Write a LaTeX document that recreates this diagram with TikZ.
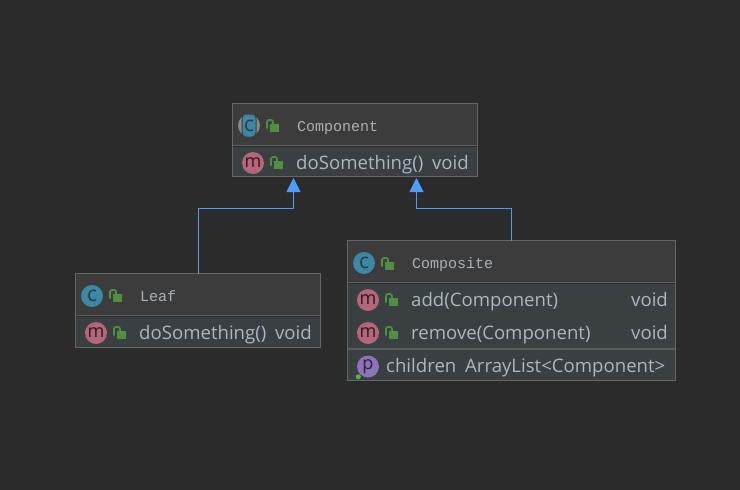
\documentclass[tikz,border=0pt]{standalone}
\usepackage{fontspec}
\setmainfont{Open Sans}
\newfontfamily\titlefont{Liberation Mono}
\usetikzlibrary{arrows.meta,calc}
\definecolor{bgc}{HTML}{2B2B2B}
\definecolor{headc}{HTML}{3C3C3C}
\definecolor{bodyc}{HTML}{3A3F42}
\definecolor{edgec}{HTML}{666666}
\definecolor{sepc}{HTML}{2A2C2D}
\definecolor{sepb}{HTML}{5A5E60}
\definecolor{txtc}{HTML}{A9B7C6}
\definecolor{ttlc}{HTML}{A9B1B8}
\definecolor{linkc}{HTML}{4F9CFA}
\definecolor{classc}{HTML}{3C87A6}
\definecolor{methc}{HTML}{B4667A}
\definecolor{propc}{HTML}{8D73B8}
\definecolor{lockc}{HTML}{4F8F3F}
\definecolor{ringc}{HTML}{8A8A8A}
\definecolor{glyphd}{HTML}{2E3B42}
\definecolor{dotc}{HTML}{50C030}
\tikzset{
  x=1pt,y=-1pt,
  boxframe/.style={draw=edgec,line width=1pt,rectangle,inner sep=0pt,outer sep=0pt,anchor=north west,fill=none},
  ttl/.style={anchor=base west,font=\titlefont\fontsize{15}{15}\selectfont,text=ttlc,inner sep=0pt},
  mem/.style={anchor=base west,font=\fontsize{18.6}{19}\selectfont,text=txtc,inner sep=0pt},
  ico/.style={circle,minimum size=22pt,inner sep=0pt,text=glyphd,font=\fontsize{18}{18}\selectfont},
  cico/.style={ico,fill=classc,font=\fontsize{21}{21}\selectfont},
  mico/.style={ico,fill=methc,text=black!75!methc},
  pico/.style={ico,fill=propc,text=black!70!propc},
  link/.style={draw=linkc,line width=1pt,-{Triangle[length=14pt,width=14pt,fill=linkc]}},
}
\newcommand{\lockat}[2]{%
  \fill[lockc] (#1+1,#2-2) rectangle (#1+10.5,#2+6);
  \draw[lockc,line width=1.8pt,rounded corners=2pt] (#1-1.5,#2+2.5) -- (#1-1.5,#2-6) -- (#1+4.5,#2-6) -- (#1+4.5,#2-2);
}
\begin{document}
\begin{tikzpicture}
\useasboundingbox (0,0) rectangle (740,490);
\fill[bgc] (0,0) rectangle (740,490);
% Component
\fill[headc] (232.5,103.5) rectangle (477.5,146);
\fill[bodyc] (232.5,146) rectangle (477.5,176.5);
\draw[sepb,line width=1pt] (232.5,145.5) -- (477.5,145.5);
\draw[sepc,line width=1pt] (232.5,146.5) -- (477.5,146.5);
\node[boxframe,minimum width=245pt,minimum height=73pt] (component) at (232.5,103.5) {};
\fill[ringc] (249,125.5) circle (11);
\fill[headc,rounded corners=4pt] (241.5,113.5) rectangle (256.5,137.5);
\fill[classc,rounded corners=4pt] (242.5,114.5) rectangle (255.5,136.5);
\node[cico,fill=none,text=glyphd] (cicoA) at (249,125.5) {c};
\lockat{268.5}{126}
\node[ttl] (ttlA) at (297,131) {Component};
\node[mico] (micoA) at (253,163) {m};
\lockat{272.5}{163}
\node[mem] (memA) at (296,169) {doSomething()\hspace{4pt} void};
% Leaf
\fill[headc] (75.5,273.5) rectangle (320.5,316);
\fill[bodyc] (75.5,316) rectangle (320.5,347.5);
\draw[sepb,line width=1pt] (75.5,315.5) -- (320.5,315.5);
\draw[sepc,line width=1pt] (75.5,316.5) -- (320.5,316.5);
\node[boxframe,minimum width=245pt,minimum height=74pt] (leaf) at (75.5,273.5) {};
\node[cico] (cicoB) at (92,296) {c};
\lockat{111.5}{296}
\node[ttl] (ttlB) at (140,301) {Leaf};
\node[mico] (micoB) at (96,333) {m};
\lockat{115.5}{333}
\node[mem] (memB) at (139,339) {doSomething()\hspace{4pt} void};
% Composite
\fill[headc] (347.5,240.5) rectangle (675.5,283);
\fill[bodyc] (347.5,283) rectangle (675.5,380.5);
\draw[sepb,line width=1pt] (347.5,282.5) -- (675.5,282.5);
\draw[sepc,line width=1pt] (347.5,283.5) -- (675.5,283.5);
\draw[sepb,line width=1.6pt] (347.5,348.8) -- (675.5,348.8);
\node[boxframe,minimum width=328pt,minimum height=140pt] (composite) at (347.5,240.5) {};
\node[cico] (cicoC) at (364,263) {c};
\lockat{383.5}{264}
\node[ttl] (ttlC) at (412,268) {Composite};
\node[mico] (micoC) at (368,300) {m};
\lockat{387.5}{300}
\node[mem] (memC) at (411,306) {add(Component)};
\node[mem] (voidC) at (631,306) {void};
\node[mico] (micoD) at (368,333) {m};
\lockat{387.5}{333}
\node[mem] (memD) at (411,339) {remove(Component)};
\node[mem] (voidD) at (631,339) {void};
\node[pico] (picoC) at (368,366.5) {p};
\fill[dotc] (358.3,376.8) circle (2.5);
\node[mem] (memE) at (386,372) {children\hspace{4pt} ArrayList<Component>};
% connectors
\coordinate (tipL) at (293.5,178);
\coordinate (tipR) at (416.5,178);
\coordinate (elbowL) at (198.5,208.5);
\coordinate (elbowR) at (511.5,208.5);
\draw[link] (elbowL |- leaf.north) -- (elbowL) -| (tipL);
\draw[link] (composite.north) -- (elbowR) -| (tipR);
\end{tikzpicture}
\end{document}
